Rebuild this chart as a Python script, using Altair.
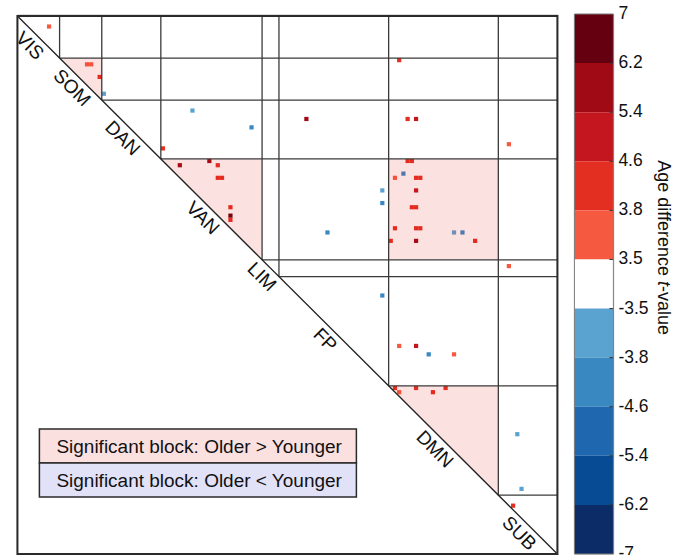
import altair as alt
import pandas as pd

FONT = "Liberation Sans"

# ---- network partition of the 128 regions, in matrix order ----
N_NODES = 128
networks = ["VIS", "SOM", "DAN", "VAN", "LIM", "FP", "DMN", "SUB"]
network_sizes = [10, 10, 14, 24, 4, 26, 26, 14]

# ---- significant edges (upper triangle): row node, column node, t-value ----
edge_row = [2, 11, 11, 14, 18, 22, 26, 31, 35, 34, 35, 38, 38, 24, 45, 47, 48,
            41, 44, 51, 53, 10, 24, 24, 30, 34, 34, 38, 37, 38, 38, 41, 45, 45,
            50, 50, 50, 51, 51, 53, 53, 59, 66, 78, 78, 80, 80, 88, 89, 88, 89,
            88, 99, 112, 116]
edge_col = [7, 16, 17, 19, 20, 41, 55, 34, 38, 45, 47, 47, 48, 68, 50, 50, 50,
            86, 86, 73, 88, 90, 92, 94, 116, 92, 93, 89, 91, 94, 95, 94, 93, 94,
            89, 94, 95, 103, 105, 94, 108, 116, 86, 90, 94, 97, 103, 89, 90, 94, 98,
            101, 118, 119, 117]
edge_t = [3.65, 3.65, 3.65, 4.2, -3.65, -3.65, -4.2, 4.2, 5.8, 5.8, 4.2, 4.2, 4.2,
          5.8, 4.2, 6.6, 4.2, -3.65, -4.2, -4.2, 4.2, 4.2, 4.2, 5.0, 3.65, 4.2,
          3.9, 3.65, -4.2, 4.2, 4.2, 5.0, 4.2, 4.2, 4.2, 4.2, 4.2, -3.65, -4.2,
          5.8, 4.2, 3.65, -4.2, 3.65, 5.0, -4.2, 3.65, 4.2, 3.65, 4.2, 4.2, 4.2,
          -3.65, -3.65, 4.2]

# ---- network blocks with a significant age effect (row network, column network) ----
sig_row_net = ["SOM", "VAN", "DMN", "VAN"]
sig_col_net = ["SOM", "VAN", "DMN", "DMN"]

legend_labels = ["Significant block: Older > Younger",
                 "Significant block: Older < Younger"]
legend_fills = ["#fbe0e0", "#e1e1f8"]

# ---- binned diverging colour scale for t ----
t_breaks = [-6.2, -5.4, -4.6, -3.8, -3.5, 3.5, 3.8, 4.6, 5.4, 6.2]
t_colors = ["#0b2c67", "#074b94", "#1f67ae", "#3a88c1", "#5aa2cf", "#ffffff",
            "#f55a40", "#e32f21", "#c4161e", "#a00a14", "#650010"]
cbar_tick_labels = ["7", "6.2", "5.4", "4.6", "3.8", "3.5",
                    "-3.5", "-3.8", "-4.6", "-5.4", "-6.2", "-7"]

# ---------------------------------------------------------------------------
starts = [sum(network_sizes[:i]) for i in range(len(networks))]
ends = [s + n for s, n in zip(starts, network_sizes)]
bounds = dict(zip(networks, zip(starts, ends)))

net_df = pd.DataFrame({"net": networks, "start": starts, "end": ends})
net_df["mid"] = (net_df["start"] + net_df["end"]) / 2

edges = pd.DataFrame({"row": edge_row, "col": edge_col, "t": edge_t})
edges["row1"] = edges["row"] + 1
edges["col1"] = edges["col"] + 1

# within-network significant blocks -> triangles above the diagonal
tri_rows, rect_rows = [], []
for rn, cn in zip(sig_row_net, sig_col_net):
    r0, r1 = bounds[rn]
    c0, c1 = bounds[cn]
    if rn == cn:
        tri_rows.append({"block": rn, "x": c0, "y": r0, "y2": r0})
        tri_rows.append({"block": rn, "x": c1, "y": r0, "y2": r1})
    else:
        rect_rows.append({"x": c0, "x2": c1, "y": r0, "y2": r1})
tri_df = pd.DataFrame(tri_rows)
blk_df = pd.DataFrame(rect_rows)

# block outlines: verticals run from the top down to the diagonal,
# horizontals from the diagonal across to the right edge
rule_rows = []
for b in ends[:-1]:
    rule_rows.append({"x": b, "y": 0, "x2": b, "y2": b})
    rule_rows.append({"x": b, "y": b, "x2": N_NODES, "y2": b})
rule_df = pd.DataFrame(rule_rows)
diag_df = pd.DataFrame({"x": [0], "y": [0], "x2": [N_NODES], "y2": [N_NODES]})

xs = alt.Scale(domain=[0, N_NODES], nice=False, zero=False)
ys = alt.Scale(domain=[0, N_NODES], range=[2, 540], nice=False, zero=False)

base = alt.Chart()

cells = alt.Chart(edges).mark_rect().encode(
    x=alt.X("col:Q", scale=xs, axis=None),
    x2="col1:Q",
    y=alt.Y("row:Q", scale=ys, axis=None),
    y2="row1:Q",
    color=alt.Color("t:Q", scale=alt.Scale(type="threshold", domain=t_breaks,
                                           range=t_colors), legend=None),
)

tri = alt.Chart(tri_df).mark_area(orient="vertical", color="#e8171b",
                                  opacity=0.13).encode(
    x=alt.X("x:Q", scale=xs, axis=None),
    y=alt.Y("y:Q", scale=ys, axis=None),
    y2="y2:Q",
    detail="block:N",
)

blk = alt.Chart(blk_df).mark_rect(color="#e8171b", opacity=0.13).encode(
    x=alt.X("x:Q", scale=xs, axis=None), x2="x2:Q",
    y=alt.Y("y:Q", scale=ys, axis=None), y2="y2:Q",
)

grid = alt.Chart(rule_df).mark_rule(color="#3a3a3a", strokeWidth=1.3).encode(
    x=alt.X("x:Q", scale=xs, axis=None), x2="x2:Q",
    y=alt.Y("y:Q", scale=ys, axis=None), y2="y2:Q",
)

diag = alt.Chart(diag_df).mark_rule(color="#222222", strokeWidth=1.3).encode(
    x=alt.X("x:Q", scale=xs, axis=None), x2="x2:Q",
    y=alt.Y("y:Q", scale=ys, axis=None), y2="y2:Q",
)

frame = alt.Chart(diag_df).mark_rect(fill="transparent", stroke="#2a2a2a",
                                     strokeWidth=2).encode(
    x=alt.X("x:Q", scale=xs, axis=None), x2="x2:Q",
    y=alt.Y("y:Q", scale=ys, axis=None), y2="y2:Q",
)

net_labels = alt.Chart(net_df).mark_text(
    angle=45, dy=12.5, align="center", baseline="middle",
    font=FONT, fontSize=19, color="#111111",
).encode(
    x=alt.X("mid:Q", scale=xs, axis=None),
    y=alt.Y("mid:Q", scale=ys, axis=None),
    text="net:N",
)

legend_layers = []
row_h = 34
top = 415
for k, (lab, fill) in enumerate(zip(legend_labels, legend_fills)):
    y0 = top + k * row_h
    legend_layers.append(
        base.mark_rect(fill=fill, stroke="#2a2a2a", strokeWidth=1.5).encode(
            x=alt.value(22), x2=alt.value(339),
            y=alt.value(y0), y2=alt.value(y0 + row_h))
    )
    legend_layers.append(
        base.mark_text(text=lab, align="left", baseline="middle", font=FONT,
                       fontSize=19, color="#111111").encode(
            x=alt.value(39), y=alt.value(y0 + row_h / 2 + 1))
    )

matrix = alt.layer(cells, tri, blk, grid, diag, frame, net_labels,
                   *legend_layers).properties(width=540, height=540)

# ---- colour bar ----
n_seg = len(t_colors)
seg_df = pd.DataFrame({"i": list(range(n_seg)),
                       "i1": list(range(1, n_seg + 1)),
                       "color": t_colors[::-1]})
cys = alt.Scale(domain=[0, n_seg], nice=False, zero=False, reverse=True)

segs = alt.Chart(seg_df).mark_rect().encode(
    x=alt.value(0), x2=alt.value(39),
    y=alt.Y("i:Q", scale=cys, axis=None),
    y2="i1:Q",
    color=alt.Color("color:N", scale=None),
)

tick_df = pd.DataFrame({"i": list(range(1, n_seg))})
cticks = alt.Chart(tick_df).mark_rule(color="#333333", strokeWidth=1).encode(
    x=alt.value(35), x2=alt.value(39),
    y=alt.Y("i:Q", scale=cys, axis=None),
)

border_df = pd.DataFrame({"i": [0], "i1": [n_seg]})
cborder = alt.Chart(border_df).mark_rect(fill="transparent", stroke="#7a7a7a",
                                         strokeWidth=1).encode(
    x=alt.value(0), x2=alt.value(39),
    y=alt.Y("i:Q", scale=cys, axis=None), y2="i1:Q",
)

lab_df = pd.DataFrame({"i": list(range(n_seg + 1)), "lab": cbar_tick_labels})
clabels = alt.Chart(lab_df).mark_text(
    align="left", baseline="middle", font=FONT, fontSize=17.5,
    color="#111111").encode(
    x=alt.value(44),
    y=alt.Y("i:Q", scale=cys, axis=None),
    text="lab:N",
)

title_kw = dict(angle=90, baseline="middle", font=FONT, fontSize=18,
                color="#111111")
ctitle1 = base.mark_text(text="Age difference", align="right", **title_kw).encode(
    x=alt.value(89), y=alt.value(262))
ctitle2 = base.mark_text(text="t", align="left", fontStyle="italic",
                         **title_kw).encode(x=alt.value(89), y=alt.value(267))
ctitle3 = base.mark_text(text="-value", align="left", **title_kw).encode(
    x=alt.value(89), y=alt.value(272))

cbar = alt.layer(segs, cticks, cborder, clabels, ctitle1, ctitle2,
                 ctitle3).properties(width=39, height=540)

chart = alt.hconcat(matrix, cbar, spacing=17).properties(
    padding={"left": 10.4, "top": 4, "right": 0, "bottom": 0},
    bounds="flush",
).configure_view(stroke="transparent").configure(font=FONT)

chart.save("out.html", embed_options={"renderer": "svg", "actions": False})
